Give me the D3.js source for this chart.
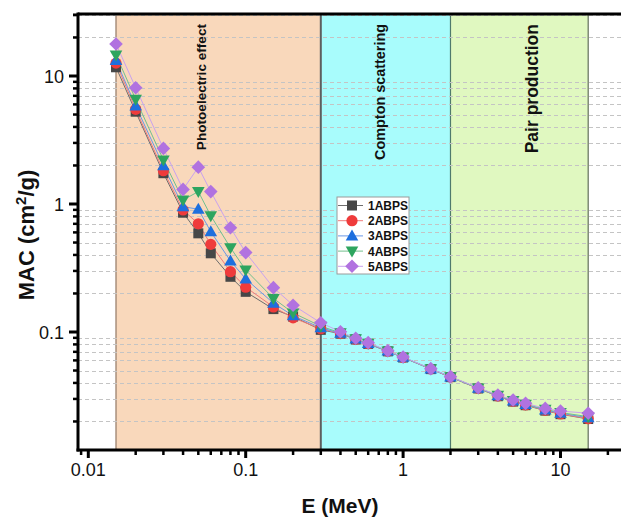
<!DOCTYPE html>
<html><head><meta charset="utf-8">
<script src="https://cdn.jsdelivr.net/npm/d3@7"></script>
<style>
html,body{margin:0;padding:0;background:#fff;}
text{font-family:"Liberation Sans",Arial,sans-serif;}
</style></head>
<body><svg id="c" width="621" height="520"></svg>
<script>
// ---- data ----
const energies = [0.015,0.02,0.03,0.04,0.05,0.06,0.08,0.1,0.15,0.2,0.3,0.4,0.5,0.6,0.8,1,1.5,2,3,4,5,6,8,10,15];
const seriesNames = ["1ABPS","2ABPS","3ABPS","4ABPS","5ABPS"];
const mac1 = [11.7,5.26,1.74,0.855,0.59,0.412,0.270,0.206,0.151,0.132,0.104,0.0970,0.0875,0.0808,0.0706,0.0632,0.0513,0.0444,0.0362,0.0315,0.0286,0.0268,0.0243,0.0228,0.0209];
const mac2 = [12.6,5.49,1.82,0.898,0.70,0.484,0.296,0.224,0.157,0.129,0.106,0.0972,0.0877,0.0810,0.0707,0.0633,0.0514,0.0445,0.0363,0.0316,0.0287,0.0269,0.0244,0.0229,0.0210];
const mac3 = [13.2,5.83,1.99,0.953,0.91,0.608,0.359,0.260,0.168,0.134,0.108,0.0978,0.0880,0.0813,0.0709,0.0634,0.0515,0.0446,0.0364,0.0318,0.0289,0.0271,0.0246,0.0232,0.0214];
const mac4 = [14.6,6.58,2.21,1.075,1.25,0.81,0.456,0.305,0.183,0.141,0.111,0.0985,0.0885,0.0818,0.0711,0.0636,0.0516,0.0447,0.0365,0.0320,0.0291,0.0273,0.0249,0.0235,0.0218];
const mac5 = [17.8,8.1,2.72,1.30,1.94,1.25,0.653,0.417,0.222,0.162,0.118,0.1005,0.0893,0.0826,0.0714,0.0638,0.0517,0.0448,0.0367,0.0322,0.0294,0.0277,0.0253,0.0241,0.0232];
const regions = [
  {name:"Photoelectric effect", from:0.015, to:0.3},
  {name:"Compton scattering", from:0.3, to:2},
  {name:"Pair production", from:2, to:15}
];
const xTickLabels = ["0.01","0.1","1","10"];
const yTickLabels = ["0.1","1","10"];

// ---- styles ----
const markerColors = ["#474747","#ef3b3b","#1e6fde","#2ea55f","#b172e0"];
const lineColors = ["#6e6e6e","#f07a7a","#6a98e6","#72c08e","#c9a2ee"];
const symbols = ["square","circle","triUp","triDown","diamond"];
const regionFill = ["#f9d8bb","#a8fcfc","#e0f8c0"];
const regionText = [{size:13.6, weight:"bold", x:206},{size:14.4, weight:"bold", x:385},{size:17.5, weight:"bold", x:538}];

const svg = d3.select("#c");
const X0 = 78, X1 = 640, Y0 = 14, Y1 = 450;
const x = d3.scaleLog().domain([0.01,10]).range([88.3,560.5]);
const y = d3.scaleLog().domain([0.1,10]).range([332,76]);

svg.append("defs").append("clipPath").attr("id","pc")
  .append("rect").attr("x",X0).attr("y",Y0).attr("width",X1-X0).attr("height",Y1-Y0);
const plot = svg.append("g").attr("clip-path","url(#pc)");

// region bands
regions.forEach((r,i)=>{
  plot.append("rect").attr("x",x(r.from)).attr("y",Y0).attr("width",x(r.to)-x(r.from)).attr("height",Y1-Y0)
    .attr("fill",regionFill[i]);
});
const borderDefs = [{v:0.015,c:"#a88f7d",w:1.5},{v:0.3,c:"#5e5e5e",w:2},{v:2,c:"#4f7a6c",w:1.2},{v:15,c:"#7f8a76",w:1.5}];
borderDefs.forEach(b=>{
  plot.append("line").attr("x1",x(b.v)).attr("x2",x(b.v)).attr("y1",Y0).attr("y2",Y1)
    .attr("stroke",b.c).attr("stroke-width",b.w);
});

// minor grid lines (y)
const yMinor = [];
[0.01,0.1,1,10].forEach(d=>{for(let k=2;k<=9;k++){const v=d*k; if(v>=0.012 && v<=30.5) yMinor.push(v);}});
plot.selectAll(".grid").data(yMinor).enter().append("line")
  .attr("x1",X0).attr("x2",X1).attr("y1",d=>Math.round(y(d))+0.5).attr("y2",d=>Math.round(y(d))+0.5)
  .attr("stroke","#c4c4c4").attr("stroke-width",1).attr("stroke-dasharray","4,3");

// region labels
regions.forEach((r,i)=>{
  svg.append("text").attr("transform",`translate(${regionText[i].x},24) rotate(-90)`)
    .attr("text-anchor","end").attr("font-size",regionText[i].size).attr("font-weight",regionText[i].weight)
    .attr("fill","#111").text(r.name);
});

const allSeries = [mac1,mac2,mac3,mac4,mac5];
const line = d3.line().x(d=>x(d[0])).y(d=>y(d[1]));
allSeries.forEach((s,i)=>{
  plot.append("path").datum(energies.map((e,j)=>[e,s[j]])).attr("d",line)
    .attr("fill","none").attr("stroke",lineColors[i]).attr("stroke-width",1);
});

function drawMarker(g, type, cx, cy, color){
  let p;
  if(type==="square") p = g.append("rect").attr("x",cx-5).attr("y",cy-5).attr("width",10).attr("height",10);
  else if(type==="circle") p = g.append("circle").attr("cx",cx).attr("cy",cy).attr("r",5.6);
  else if(type==="triUp") p = g.append("path").attr("d",`M${cx},${cy-6.5}L${cx+6.3},${cy+4.5}L${cx-6.3},${cy+4.5}Z`);
  else if(type==="triDown") p = g.append("path").attr("d",`M${cx},${cy+6.5}L${cx+6.3},${cy-4.5}L${cx-6.3},${cy-4.5}Z`);
  else p = g.append("path").attr("d",`M${cx},${cy-6.8}L${cx+6.8},${cy}L${cx},${cy+6.8}L${cx-6.8},${cy}Z`);
  p.attr("fill",color);
}
allSeries.forEach((s,i)=>{
  const g = plot.append("g");
  energies.forEach((e,j)=>drawMarker(g,symbols[i],x(e),y(s[j]),markerColors[i]));
});

// axes frame
svg.append("line").attr("x1",X0).attr("x2",621).attr("y1",Y0).attr("y2",Y0).attr("stroke","#000").attr("stroke-width",3);
svg.append("line").attr("x1",X0).attr("x2",X0).attr("y1",Y0-1.5).attr("y2",Y1+1.5).attr("stroke","#000").attr("stroke-width",3);
svg.append("line").attr("x1",X0-1.5).attr("x2",621).attr("y1",Y1).attr("y2",Y1).attr("stroke","#000").attr("stroke-width",3);

// y ticks
const yMajor = [0.1,1,10];
yMajor.forEach((v,i)=>{
  svg.append("line").attr("x1",X0-9).attr("x2",X0).attr("y1",y(v)).attr("y2",y(v)).attr("stroke","#000").attr("stroke-width",3);
  svg.append("text").attr("x",64).attr("y",y(v)+6.5).attr("text-anchor","end").attr("font-size",18).attr("fill","#111").text(yTickLabels[i]);
});
[...yMinor,30].forEach(v=>{
  const yy = y(v); if(yy<Y0-1||yy>Y1) return;
  svg.append("line").attr("x1",X0-5).attr("x2",X0).attr("y1",yy).attr("y2",yy).attr("stroke","#000").attr("stroke-width",2.5);
});
// x ticks
const xMajor = [0.01,0.1,1,10];
xMajor.forEach((v,i)=>{
  svg.append("line").attr("x1",x(v)).attr("x2",x(v)).attr("y1",Y1).attr("y2",Y1+8).attr("stroke","#000").attr("stroke-width",3);
  svg.append("text").attr("x",x(v)).attr("y",476).attr("text-anchor","middle").attr("font-size",18).attr("fill","#111").text(xTickLabels[i]);
});
const xMinor = [];
[0.001,0.01,0.1,1,10].forEach(d=>{for(let k=2;k<=9;k++){const v=d*k; const xx=x(v); if(xx>=X0 && xx<=621) xMinor.push(v);}});
xMinor.forEach(v=>{
  svg.append("line").attr("x1",x(v)).attr("x2",x(v)).attr("y1",Y1).attr("y2",Y1+5).attr("stroke","#000").attr("stroke-width",2.5);
});

// axis titles
svg.append("text").attr("x",340).attr("y",513).attr("text-anchor","middle").attr("font-size",21).attr("font-weight","bold").attr("fill","#111").text("E (MeV)");
const yt = svg.append("text").attr("transform","translate(34,235) rotate(-90)").attr("text-anchor","middle")
  .attr("font-size",22).attr("font-weight","bold").attr("fill","#111");
yt.append("tspan").text("MAC (cm");
yt.append("tspan").attr("font-size",15).attr("dy",-8).text("2");
yt.append("tspan").attr("dy",8).text("/g)");

// legend
const lg = svg.append("g");
lg.append("rect").attr("x",337).attr("y",197).attr("width",72).attr("height",77).attr("fill","#fff").attr("stroke","#9a9a9a").attr("stroke-width",1);
seriesNames.forEach((n,i)=>{
  const ly = 205.5 + i*15.2;
  lg.append("line").attr("x1",338).attr("x2",363).attr("y1",ly).attr("y2",ly).attr("stroke",lineColors[i]).attr("stroke-width",1);
  drawMarker(lg,symbols[i],352,ly,markerColors[i]);
  lg.append("text").attr("x",368).attr("y",ly+4.5).attr("font-size",12).attr("font-weight","bold").attr("fill","#111").text(n);
});
</script></body></html>
